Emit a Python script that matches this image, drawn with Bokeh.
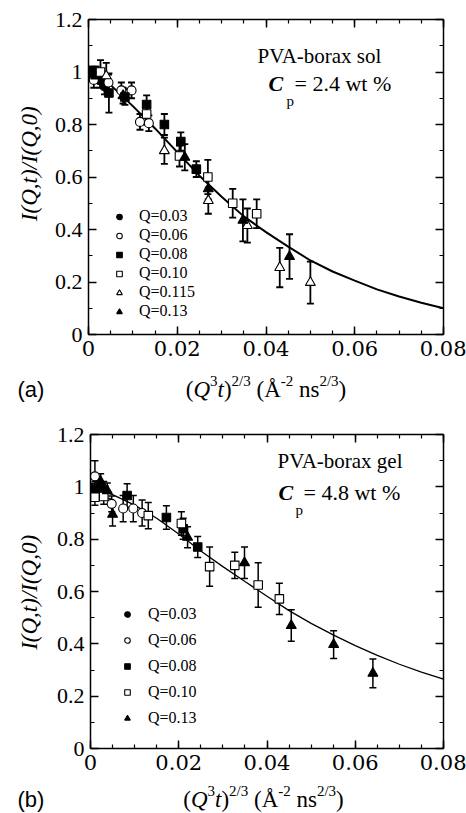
import math
from bokeh.plotting import figure
from bokeh.models import (ColumnDataSource, Whisker, TeeHead, Label, Legend, LegendItem,
                          LinearAxis, FixedTicker, CustomJSTickFormatter, Range1d)
from bokeh.layouts import column, row
from bokeh.embed import file_html
from bokeh.resources import INLINE

# ---------------- axis ticks ----------------
x_ticks = [0, 0.02, 0.04, 0.06, 0.08]
x_tick_labels = ["0", "0.02", "0.04", "0.06", "0.08"]
x_minor = [0, 0.005, 0.01, 0.015, 0.02, 0.025, 0.03, 0.035, 0.04, 0.045, 0.05,
           0.055, 0.06, 0.065, 0.07, 0.075, 0.08]
y_ticks = [0, 0.2, 0.4, 0.6, 0.8, 1, 1.2]
y_tick_labels = ["0", "0.2", "0.4", "0.6", "0.8", "1", "1.2"]
y_minor = [0, 0.1, 0.2, 0.3, 0.4, 0.5, 0.6, 0.7, 0.8, 0.9, 1.0, 1.1, 1.2]

# ---------------- panel (a): PVA-borax sol ----------------
a_q003_x = [0.0000, 0.0008, 0.0017, 0.0026, 0.0036]
a_q003_y = [1.000, 1.000, 0.990, 0.970, 0.945]
a_q003_e = [0.020, 0.020, 0.030, 0.030, 0.030]

a_q006_x = [0.0012, 0.0045, 0.0074, 0.0097, 0.0116, 0.0136]
a_q006_y = [0.970, 0.960, 0.930, 0.930, 0.810, 0.805]
a_q006_e = [0.030, 0.030, 0.030, 0.030, 0.030, 0.030]

a_q008_x = [0.0015, 0.0046, 0.0082, 0.0131, 0.0171, 0.0208, 0.0243]
a_q008_y = [0.990, 0.920, 0.905, 0.876, 0.800, 0.735, 0.630]
a_q008_e = [0.030, 0.075, 0.030, 0.035, 0.040, 0.035, 0.030]

a_q010_x = [0.0027, 0.0131, 0.0205, 0.0269, 0.0325, 0.0379]
a_q010_y = [1.000, 0.840, 0.680, 0.600, 0.500, 0.460]
a_q010_e = [0.045, 0.040, 0.040, 0.065, 0.055, 0.055]

a_q0115_x = [0.0040, 0.0171, 0.0270, 0.0358, 0.0431, 0.0500]
a_q0115_y = [0.985, 0.700, 0.510, 0.415, 0.255, 0.198]
a_q0115_e = [0.050, 0.050, 0.050, 0.065, 0.075, 0.080]

a_q013_x = [0.0078, 0.0217, 0.0270, 0.0348, 0.0453]
a_q013_y = [0.910, 0.675, 0.555, 0.435, 0.297]
a_q013_e = [0.030, 0.050, 0.040, 0.080, 0.085]

a_fit_x = [0, 0.005, 0.01, 0.015, 0.02, 0.025, 0.03, 0.035, 0.04, 0.045, 0.05,
           0.055, 0.06, 0.065, 0.07, 0.075, 0.08]
a_fit_y = [1.000, 0.950, 0.870, 0.785, 0.695, 0.605, 0.525, 0.450, 0.390, 0.335,
           0.282, 0.240, 0.205, 0.172, 0.145, 0.121, 0.100]

# ---------------- panel (b): PVA-borax gel ----------------
b_q003_x = [0.0000, 0.0015]
b_q003_y = [0.994, 0.990]
b_q003_e = [0.020, 0.020]

b_q006_x = [0.0010, 0.0048, 0.0074, 0.0097, 0.0117]
b_q006_y = [1.040, 0.935, 0.917, 0.917, 0.900]
b_q006_e = [0.060, 0.030, 0.050, 0.050, 0.050]

b_q008_x = [0.0010, 0.0030, 0.0083, 0.0172, 0.0210, 0.0243]
b_q008_y = [0.990, 0.990, 0.967, 0.883, 0.840, 0.770]
b_q008_e = [0.030, 0.030, 0.045, 0.045, 0.040, 0.040]

b_q010_x = [0.0010, 0.0030, 0.0131, 0.0206, 0.0270, 0.0327, 0.0380, 0.0428]
b_q010_y = [0.960, 0.963, 0.890, 0.860, 0.695, 0.700, 0.625, 0.572]
b_q010_e = [0.030, 0.030, 0.050, 0.045, 0.075, 0.050, 0.085, 0.060]

b_q013_x = [0.0023, 0.0038, 0.0050, 0.0220, 0.0349, 0.0455, 0.0551, 0.0640]
b_q013_y = [1.020, 0.985, 0.895, 0.807, 0.710, 0.470, 0.397, 0.287]
b_q013_e = [0.030, 0.030, 0.045, 0.040, 0.060, 0.060, 0.053, 0.055]

b_fit_x = [0, 0.005, 0.01, 0.015, 0.02, 0.025, 0.03, 0.035, 0.04, 0.045, 0.05,
           0.055, 0.06, 0.065, 0.07, 0.075, 0.08]
b_fit_y = [1.000, 0.970, 0.930, 0.880, 0.820, 0.755, 0.695, 0.638, 0.582, 0.527,
           0.478, 0.434, 0.393, 0.356, 0.322, 0.292, 0.265]

SERIF = "Liberation Serif"

# approximate Times advance widths (em) for composing the axis title
W = {'(': 0.333, ')': 0.333, 'Q': 0.722, 't': 0.278, 'n': 0.5, 's': 0.389, ' ': 0.25,
     'Å': 0.722, '2': 0.5, '3': 0.5, '/': 0.278, '-': 0.333}
XL_PIECES = [("(", "n"), ("Q", "i"), ("3", "s"), ("t", "i"), (")", "n"), ("2/3", "s"),
             (" ", "g"), ("(", "n"), ("Å", "n"), ("-2", "s"), (" ", "g"), ("ns", "n"),
             ("2/3", "s"), (")", "n")]


def mk_label(x, y, text, size, font=SERIF, style="normal", align="left",
             baseline="alphabetic", angle=0.0):
    return Label(x=x, y=y, text=text, text_font=font, text_font_size=f"{size}px",
                 text_font_style=style, text_align=align, text_baseline=baseline,
                 angle=angle, text_color="black")


def put(p, m, px, py, text, size, **kw):
    x0, sx, y0, sy = m
    p.add_layout(mk_label((px - x0) / sx, (y0 - py) / sy, text, size, **kw))


def strip(w, h):
    f = figure(width=w, height=h, x_range=Range1d(0, w), y_range=Range1d(0, h),
               output_backend="svg", toolbar_location=None, title=None,
               x_axis_type=None, y_axis_type=None, min_border=0)
    f.grid.visible = False
    f.outline_line_color = None
    return f


def xlabel(f, h, cx, base, sup_base, main=23, sup=15):
    widths = []
    for t, k in XL_PIECES:
        sz = sup if k == "s" else main
        widths.append(sum(W[c] for c in t) * sz)
    x = cx - sum(widths) / 2
    for (t, k), w in zip(XL_PIECES, widths):
        if k != "g":
            f.add_layout(mk_label(x, h - (sup_base if k == "s" else base), t,
                                  sup if k == "s" else main,
                                  style="italic" if k == "i" else "normal"))
        x += w


def style_axis(ax, ticker, show_labels, font=SERIF, size=22):
    ax.ticker = ticker
    ax.major_tick_in = 8
    ax.major_tick_out = 0
    ax.minor_tick_in = 4
    ax.minor_tick_out = 0
    ax.axis_line_width = 1.5
    ax.major_tick_line_width = 1.5
    ax.minor_tick_line_width = 1.2
    ax.axis_line_color = "black"
    ax.major_tick_line_color = "black"
    ax.minor_tick_line_color = "black"
    if show_labels:
        ax.major_label_text_font = font
        ax.major_label_text_font_size = f"{size}px"
        ax.major_label_text_color = "black"
        ax.major_label_standoff = 6
    else:
        ax.formatter = CustomJSTickFormatter(code="return ''")
        ax.major_label_text_font_size = "0px"
        ax.major_label_standoff = 0


STRIP_W = 45


def make_panel(series, fit_x, fit_y, height, borders, m, lw_fit, lw_err, legend_cfg,
               texts, xl_cfg, ylab_cy, tag, tag_base):
    left, right, top, bottom = borders
    p = figure(width=466 - STRIP_W, height=height, x_range=Range1d(0, 0.08),
               y_range=Range1d(0, 1.2), output_backend="svg", toolbar_location=None,
               title=None, min_border_left=left - STRIP_W, min_border_right=right,
               min_border_top=top, min_border_bottom=bottom)
    p.grid.visible = False
    p.outline_line_color = None
    p.background_fill_color = "white"
    p.border_fill_color = "white"

    style_axis(p.xaxis[0], FixedTicker(ticks=x_ticks, minor_ticks=x_minor), True,
               font="DejaVu Serif", size=21)
    p.xaxis[0].major_label_overrides = dict(zip(x_ticks, x_tick_labels))
    style_axis(p.yaxis[0], FixedTicker(ticks=y_ticks, minor_ticks=y_minor), True)
    p.yaxis[0].major_label_overrides = dict(zip(y_ticks, y_tick_labels))
    top_ax = LinearAxis()
    style_axis(top_ax, FixedTicker(ticks=x_ticks, minor_ticks=x_minor), False)
    p.add_layout(top_ax, "above")
    right_ax = LinearAxis()
    style_axis(right_ax, FixedTicker(ticks=y_ticks, minor_ticks=y_minor), False)
    p.add_layout(right_ax, "right")

    # fit curve
    p.line(fit_x, fit_y, line_color="black", line_width=lw_fit)

    items = []
    for (xs, ys, es, marker, fill, size, name) in series:
        src = ColumnDataSource(dict(x=xs, y=ys,
                                    lo=[y - e for y, e in zip(ys, es)],
                                    hi=[y + e for y, e in zip(ys, es)]))
        wh = Whisker(source=src, base="x", lower="lo", upper="hi", dimension="height",
                     line_color="black", line_width=lw_err,
                     upper_head=TeeHead(size=7, line_width=lw_err, line_color="black"),
                     lower_head=TeeHead(size=7, line_width=lw_err, line_color="black"))
        wh.level = "underlay"
        p.add_layout(wh)
        r = p.scatter("x", "y", source=src, marker=marker, size=size, fill_color=fill,
                      line_color="black", line_width=1.1)
        items.append(LegendItem(label=name, renderers=[r]))

    loc, gh, standoff = legend_cfg
    leg = Legend(items=items, location=loc, glyph_width=14, glyph_height=gh,
                 label_height=gh, label_standoff=standoff, spacing=0, padding=0,
                 margin=0, background_fill_alpha=0, border_line_alpha=0,
                 label_text_font=SERIF, label_text_font_size="16px",
                 label_text_color="black")
    p.add_layout(leg)

    for (px, py, t, sz, st) in texts:
        put(p, m, px, py, t, sz, style=st)

    # y-axis title strip (left)
    ys = strip(STRIP_W, height)
    ys.add_layout(mk_label(29, height - ylab_cy, "I(Q,t)/I(Q,0)", 23, style="italic",
                           align="center", baseline="middle", angle=math.pi / 2))

    # x-axis title strip (below)
    total_h = 405 if tag == "(a)" else 408
    sh = total_h - height
    xs = strip(466, sh)
    cx, base, sup_base = xl_cfg
    xlabel(xs, sh, cx, base - height, sup_base - height)
    xs.add_layout(mk_label(17, sh - (tag_base - height), tag, 22, font="Liberation Sans"))
    return column(row(ys, p, spacing=0), xs, spacing=0)


series_a = [
    (a_q003_x, a_q003_y, a_q003_e, "circle", "black", 9, "Q=0.03"),
    (a_q006_x, a_q006_y, a_q006_e, "circle", "white", 9, "Q=0.06"),
    (a_q008_x, a_q008_y, a_q008_e, "square", "black", 8.5, "Q=0.08"),
    (a_q010_x, a_q010_y, a_q010_e, "square", "white", 8.5, "Q=0.10"),
    (a_q0115_x, a_q0115_y, a_q0115_e, "triangle", "white", 10, "Q=0.115"),
    (a_q013_x, a_q013_y, a_q013_e, "triangle", "black", 10, "Q=0.13"),
]
series_b = [
    (b_q003_x, b_q003_y, b_q003_e, "circle", "black", 9, "Q=0.03"),
    (b_q006_x, b_q006_y, b_q006_e, "circle", "white", 9, "Q=0.06"),
    (b_q008_x, b_q008_y, b_q008_e, "square", "black", 8.5, "Q=0.08"),
    (b_q010_x, b_q010_y, b_q010_e, "square", "white", 8.5, "Q=0.10"),
    (b_q013_x, b_q013_y, b_q013_e, "triangle", "black", 10, "Q=0.13"),
]

# pixel -> data mappings (panel-local px): (x0, px per x unit, y0, px per y unit)
m_a = (88, 4437.5, 334, 262.5)
m_b = (90, 4412.5, 343, 261.7)

texts_a = [
    (257, 55, "PVA-borax sol", 21, "normal"),
    (268, 83, "C", 22, "bold italic"),
    (286, 100, "p", 15, "normal"),
    (294, 83, "= 2.4 wt %", 22, "normal"),
]
texts_b = [
    (277, 55, "PVA-borax gel", 21, "normal"),
    (278, 87, "C", 22, "bold italic"),
    (295, 104, "p", 15, "normal"),
    (303, 87, "= 4.8 wt %", 22, "normal"),
]

HA = 367   # panel (a) main figure height (frame 19..334)
HB = 376   # panel (b) main figure height (frame 29..343)

pa = make_panel(series_a, a_fit_x, a_fit_y, HA, (88, 23, 19, HA - 334), m_a, 2.0, 1.8,
                ((24, 13.5), 19, 13), texts_a, (265.5, 389, 380), 168, "(a)", 389)
pb = make_panel(series_b, b_fit_x, b_fit_y, HB, (90, 23, 29, HB - 343), m_b, 1.3, 1.5,
                ((30, 17), 26, 14), texts_b, (263, 394, 385), 189, "(b)", 394)

layout = column(pa, pb, spacing=0)
open("out.html", "w").write(file_html(layout, INLINE))
